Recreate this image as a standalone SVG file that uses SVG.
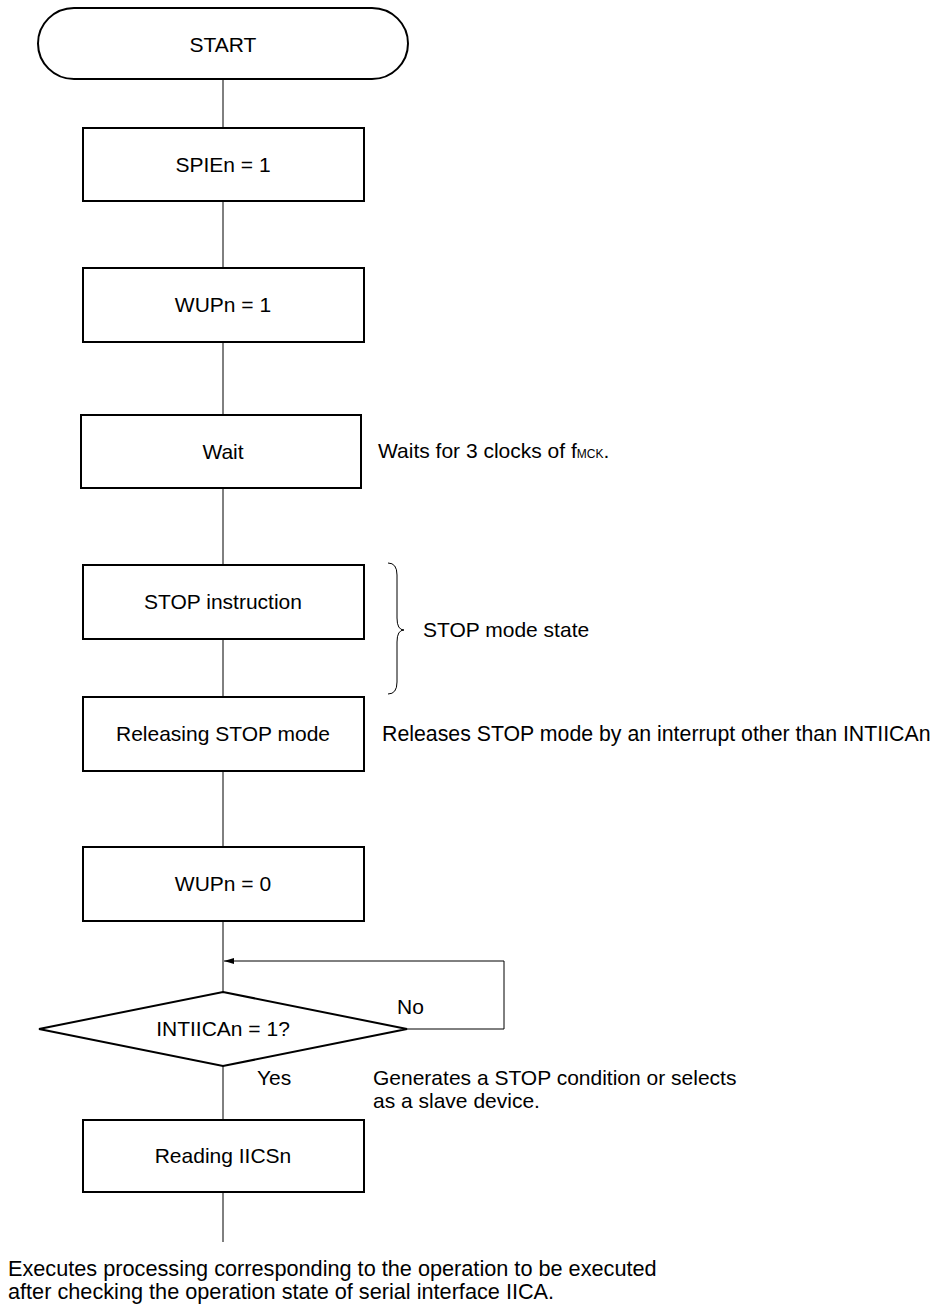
<svg xmlns="http://www.w3.org/2000/svg" width="938" height="1306" viewBox="0 0 938 1306">
<defs>
<style>
.box{fill:#fff;stroke:#000;stroke-width:2}
.ln{fill:none;stroke:#000;stroke-width:1}
text{font-family:"Liberation Sans",Arial,sans-serif;font-size:21px;fill:#000}
.c{text-anchor:middle}
.big{font-size:21.7px}
.rel{font-size:21.3px}
</style>
<marker id="ah" markerWidth="10" markerHeight="6" refX="10" refY="3" orient="auto" markerUnits="userSpaceOnUse">
<path d="M0,0 L10,3 L0,6 Z" fill="#000"/>
</marker>
</defs>
<rect width="938" height="1306" fill="#fff"/>
<g id="connectors">
<line class="ln" x1="223" y1="79" x2="223" y2="128"/>
<line class="ln" x1="223" y1="201" x2="223" y2="268"/>
<line class="ln" x1="223" y1="342" x2="223" y2="415"/>
<line class="ln" x1="223" y1="488" x2="223" y2="565"/>
<line class="ln" x1="223" y1="639" x2="223" y2="697"/>
<line class="ln" x1="223" y1="771" x2="223" y2="847"/>
<line class="ln" x1="223" y1="921" x2="223" y2="992"/>
<line class="ln" x1="223" y1="1066" x2="223" y2="1120"/>
<line class="ln" x1="223" y1="1192" x2="223" y2="1242"/>
<path class="ln" d="M407,1029 H504 V961 H224" marker-end="url(#ah)"/>
<text x="397" y="1014">No</text>
<text x="257" y="1085">Yes</text>
</g>
<g id="start">
<rect class="box" x="38" y="8" width="370" height="71" rx="36" ry="35.5"/>
<text class="c" x="223" y="52">START</text>
</g>
<g id="spien1">
<rect class="box" x="83" y="128" width="281" height="73"/>
<text class="c" x="223" y="172">SPIEn = 1</text>
</g>
<g id="wupn1">
<rect class="box" x="83" y="268" width="281" height="74"/>
<text class="c" x="223" y="312">WUPn = 1</text>
</g>
<g id="wait">
<rect class="box" x="81" y="415" width="280" height="73"/>
<text class="c" x="223" y="459">Wait</text>
</g>
<g id="wait-note">
<text x="378" y="458">Waits for 3 clocks of f<tspan font-size="12">MCK</tspan>.</text>
</g>
<g id="stop-instr">
<rect class="box" x="83" y="565" width="281" height="74"/>
<text class="c" x="223" y="609">STOP instruction</text>
</g>
<g id="stop-state">
<path class="ln" d="M388,563 Q397,563 397,575 V618 Q397,630 404,630 Q397,630 397,642 V682 Q397,694 388,694"/>
<text x="423" y="637">STOP mode state</text>
</g>
<g id="release">
<rect class="box" x="83" y="697" width="281" height="74"/>
<text class="c" x="223" y="741">Releasing STOP mode</text>
</g>
<g id="release-note">
<text class="rel" x="382" y="741">Releases STOP mode by an interrupt other than INTIICAn</text>
</g>
<g id="wupn0">
<rect class="box" x="83" y="847" width="281" height="74"/>
<text class="c" x="223" y="891">WUPn = 0</text>
</g>
<g id="decision">
<polygon class="box" points="223,992 407,1029 223,1066 39,1029"/>
<text class="c" x="223" y="1036">INTIICAn = 1?</text>
</g>
<g id="decision-note">
<text x="373" y="1085">Generates a STOP condition or selects</text>
<text x="373" y="1108">as a slave device.</text>
</g>
<g id="read">
<rect class="box" x="83" y="1120" width="281" height="72"/>
<text class="c" x="223" y="1163">Reading IICSn</text>
</g>
<g id="end-note">
<text class="big" x="8" y="1276">Executes processing corresponding to the operation to be executed</text>
<text class="big" x="8" y="1299">after checking the operation state of serial interface IICA.</text>
</g>
</svg>
